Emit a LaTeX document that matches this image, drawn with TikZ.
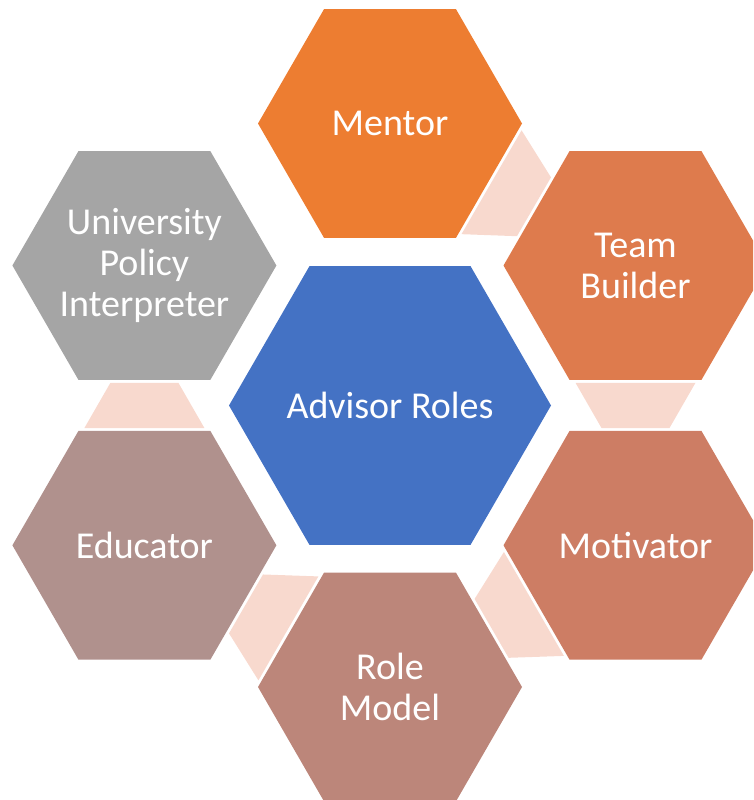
\documentclass[tikz,border=0pt]{standalone}
\usepackage{fontspec}
\setmainfont{Carlito}
\usetikzlibrary{shapes.geometric,calc}
\definecolor{c0}{HTML}{4472C4}
\definecolor{c1}{HTML}{ED7D31}
\definecolor{c2}{RGB}{222,123,77}
\definecolor{c3}{RGB}{205,125,100}
\definecolor{c4}{RGB}{188,134,122}
\definecolor{c5}{RGB}{176,145,141}
\definecolor{c6}{HTML}{A5A5A5}
\definecolor{lk}{RGB}{248,217,206}
\begin{document}
\begin{tikzpicture}[x=1pt,y=-1pt,
        hexa/.style={regular polygon,regular polygon sides=6,minimum size=264pt,inner sep=0pt,outer sep=0pt},
        txt/.style={text=white,align=center,inner sep=0pt,font=\fontsize{38}{41}\selectfont},
        link/.style={fill=lk}]
        \clip (0,0) rectangle (753,800);
        \node[hexa,fill=c0,minimum size=322pt] (h0) at (390,405.5) {};
        \node[hexa,fill=c1] (h1) at (390,123.5) {};
        \node[hexa,fill=c2] (h2) at (635.5,265.5) {};
        \node[hexa,fill=c3] (h3) at (635.5,545.3) {};
        \node[hexa,fill=c4] (h4) at (390,687) {};
        \node[hexa,fill=c5] (h5) at (144.4,545.3) {};
        \node[hexa,fill=c6] (h6) at (144.4,265.5) {};
        \node[txt] (t0) at (h0) {Advisor Roles};
        \node[txt] (t1) at (h1) {Mentor};
        \node[txt] (t2) at (h2) {Team\\Builder};
        \node[txt] (t3) at (h3) {Motivator};
        \node[txt] (t4) at (h4) {Role\\Model};
        \node[txt] (t5) at (h5) {Educator};
        \node[txt] (t6) at (h6) {University\\Policy\\Interpreter};
        \foreach \a/\b in {h1/h2,h2/h3,h3/h4,h4/h5,h5/h6}{
            \coordinate (p) at ($(\a)!117.3pt!(\b)$);
            \coordinate (q) at ($(\b)!117.3pt!(\a)$);
            \path[link] ($(p)!60pt!90:(\b)$) -- ($(p)!60pt!-90:(\b)$) -- ($(q)!34pt!90:(\a)$) -- ($(q)!34pt!-90:(\a)$) -- cycle;
        }
    \end{tikzpicture}
\end{document}
